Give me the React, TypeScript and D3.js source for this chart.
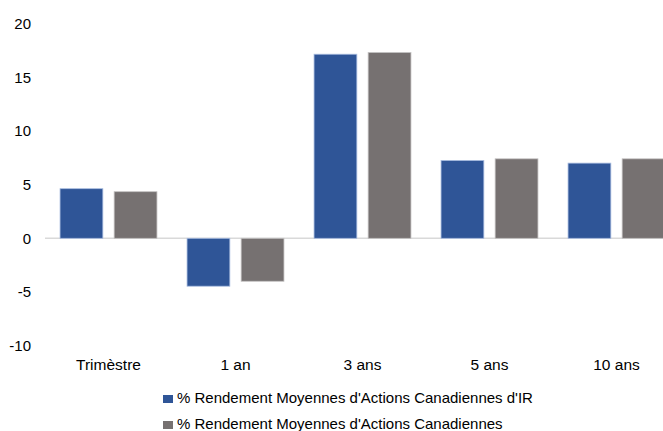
import { useEffect, useRef } from "react";
import * as d3 from "d3";

const categories = ["Trimèstre", "1 an", "3 ans", "5 ans", "10 ans"];
const seriesNames = [
  "% Rendement Moyennes d'Actions Canadiennes d'IR",
  "% Rendement Moyennes d'Actions Canadiennes",
];
const irValues = [4.62, -4.46, 17.14, 7.25, 7.0];
const canValues = [4.34, -4.0, 17.3, 7.4, 7.4];
const yTicks = [-10, -5, 0, 5, 10, 15, 20];
const colors = ["#2F5597", "#767171"];

const W = 663;
const H = 431;

export default function App() {
  const svgRef = useRef<SVGSVGElement>(null);

  useEffect(() => {
    if (!svgRef.current) return;
    const svg = d3.select(svgRef.current);
    svg.selectAll("*").remove();

    // plot area runs past the right edge (clipped like the source)
    const x0 = d3.scaleBand().domain(categories).range([45, 680]).paddingInner(0).paddingOuter(0);
    const x1 = d3.scaleBand().domain(["0", "1"]).range([0, x0.bandwidth()]).paddingInner(0.209).paddingOuter(0.278);
    const y = d3.scaleLinear().domain([-10, 20]).range([345.7, 23.5]);

    const font = "'Liberation Sans', Arial, sans-serif";

    // y tick labels
    svg.append("g")
      .selectAll("text")
      .data(yTicks)
      .enter()
      .append("text")
      .attr("x", 31)
      .attr("y", d => y(d))
      .attr("dy", "0.36em")
      .attr("text-anchor", "end")
      .attr("font-family", font)
      .attr("font-size", 15)
      .attr("fill", "#000")
      .text(d => String(d));

    // zero line
    svg.append("line")
      .attr("x1", 45)
      .attr("x2", W)
      .attr("y1", y(0))
      .attr("y2", y(0))
      .attr("stroke", "#d9d9d9")
      .attr("stroke-width", 1.5);

    const rows = categories.map((c, i) => ({ c, vals: [irValues[i], canValues[i]] }));

    const groups = svg.append("g")
      .selectAll("g")
      .data(rows)
      .enter()
      .append("g")
      .attr("transform", d => `translate(${x0(d.c)},0)`);

    groups.selectAll("rect")
      .data(d => d.vals.map((v, k) => ({ v, k })))
      .enter()
      .append("rect")
      .attr("x", d => x1(String(d.k)) || 0)
      .attr("width", x1.bandwidth())
      .attr("y", d => y(Math.max(0, d.v)))
      .attr("height", d => Math.abs(y(d.v) - y(0)))
      .attr("fill", d => colors[d.k])
      .attr("stroke", d => (d.k === 0 ? "#a9bde0" : "#c4c2c2"))
      .attr("stroke-width", 0.8);

    // category labels
    svg.append("g")
      .selectAll("text")
      .data(categories)
      .enter()
      .append("text")
      .attr("x", d => (x0(d) || 0) + x0.bandwidth() / 2)
      .attr("y", 370)
      .attr("text-anchor", "middle")
      .attr("font-family", font)
      .attr("font-size", 15.5)
      .attr("fill", "#000")
      .text(d => d);

    // legend
    const legend = svg.append("g")
      .selectAll("g")
      .data(seriesNames)
      .enter()
      .append("g")
      .attr("transform", (d, i) => `translate(163,${403 + i * 26})`);

    legend.append("rect")
      .attr("x", 0)
      .attr("y", -8)
      .attr("width", 10)
      .attr("height", 8)
      .attr("fill", (d, i) => colors[i]);

    legend.append("text")
      .attr("x", 14)
      .attr("y", 0)
      .attr("font-family", font)
      .attr("font-size", 15)
      .attr("fill", "#000")
      .text(d => d);
  }, []);

  return (
    <svg
      ref={svgRef}
      width={W}
      height={H}
      style={{ position: "absolute", left: 0, top: 0, background: "#fff" }}
    ></svg>
  );
}
